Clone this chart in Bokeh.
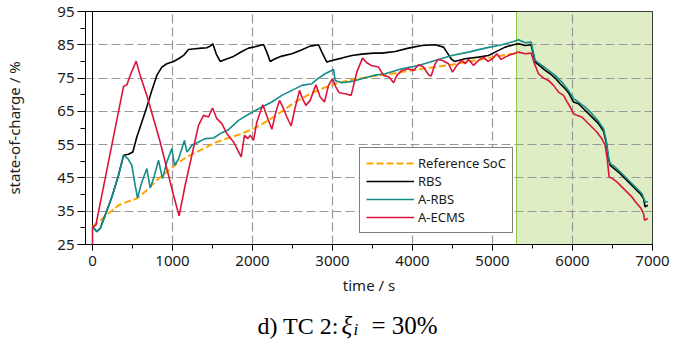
from bokeh.plotting import figure
from bokeh.layouts import column
from bokeh.models import Range1d, FixedTicker, Span, Label, Legend, LegendItem
from bokeh.embed import file_html
from bokeh.resources import INLINE

# ---------------- data ----------------
ref_t = [0, 75, 200, 325, 429, 554, 679, 804, 929, 1054, 1179, 1304, 1429, 1554, 1700,
         1867, 2033, 2200, 2367, 2533, 2700, 2867, 3033, 3200, 3367, 3513, 3658, 3867,
         4075, 4283, 4492, 4700, 4908, 5117, 5263, 5300]
ref_soc = [30.3, 31.8, 34.3, 36.8, 37.8, 38.8, 41.3, 44.3, 46.8, 49.3, 51.3, 52.8, 54.3, 55.8, 57.0,
           58.3, 60.0, 62.3, 65.0, 67.8, 70.0, 71.8, 73.3, 74.3, 75.0, 75.6, 76.0, 76.8,
           77.6, 78.3, 79.0, 80.0, 80.8, 81.8, 82.3, 82.5]

rbs_t = [0, 54, 96, 158, 242, 325, 388, 450, 504, 554, 617, 679, 742, 804, 867, 929, 1013,
         1075, 1138, 1200, 1283, 1367, 1429, 1471, 1504, 1546, 1596, 1658, 1763, 1867, 1950,
         2033, 2138, 2179, 2221, 2283, 2367, 2492, 2596, 2721, 2825, 2867, 2929, 2992, 3117,
         3242, 3367, 3513, 3617, 3783, 3950, 4117, 4283, 4388, 4429, 4483, 4525, 4658, 4825,
         4950, 5033, 5158, 5263, 5325, 5408, 5483, 5533, 5596, 5658, 5721, 5783, 5846, 5908,
         5950, 6013, 6075, 6138, 6200, 6263, 6325, 6388, 6421, 6450, 6471, 6533, 6596, 6658,
         6721, 6783, 6846, 6888, 6908, 6942]
rbs_soc = [30.3, 28.9, 29.8, 33.8, 39.3, 45.8, 51.8, 52.1, 52.8, 57.3, 61.8, 66.3, 71.3, 75.8, 78.3, 79.3, 80.0,
           80.8, 81.8, 83.6, 83.8, 84.0, 84.1, 84.6, 85.3, 82.3, 80.0, 80.6, 81.5, 83.0, 84.0,
           84.4, 85.1, 82.8, 80.0, 80.8, 81.6, 82.3, 83.3, 84.6, 85.0, 82.8, 79.8, 80.3, 81.0,
           81.8, 82.2, 82.5, 82.5, 83.0, 84.0, 84.8, 85.0, 84.3, 82.8, 80.8, 80.0, 80.8, 81.3,
           81.8, 82.8, 84.3, 85.0, 85.3, 84.8, 85.0, 79.8, 78.6, 77.3, 76.3, 75.0, 73.3, 71.8,
           70.6, 67.8, 67.3, 65.8, 64.3, 62.8, 61.3, 59.0, 55.8, 50.8, 48.8, 47.6, 46.3, 44.8,
           43.3, 41.8, 40.3, 38.8, 36.3, 36.8]

arbs_t = [0, 54, 96, 158, 242, 325, 388, 442, 492, 533, 563, 617, 679, 721, 763, 825, 875,
          929, 992, 1025, 1075, 1150, 1179, 1213, 1242, 1325, 1408, 1513, 1617, 1700, 1825,
          2000, 2117, 2242, 2367, 2492, 2617, 2742, 2825, 2908, 3013, 3033, 3117, 3242, 3367,
          3513, 3658, 3867, 4075, 4283, 4492, 4700, 4908, 5117, 5263, 5325, 5408, 5483, 5533,
          5617, 5700, 5783, 5867, 5950, 6013, 6075, 6158, 6242, 6325, 6388, 6421, 6450, 6471,
          6533, 6617, 6700, 6783, 6867, 6908, 6942]
arbs_soc = [30.5, 28.8, 29.8, 33.8, 39.3, 45.8, 51.8, 50.8, 48.8, 42.8, 39.0, 43.8, 47.8, 42.0, 44.8, 50.3, 44.8,
            49.8, 53.8, 48.8, 50.6, 56.3, 52.8, 53.8, 54.8, 55.8, 56.8, 57.0, 58.6, 59.5, 62.3,
            64.8, 66.3, 67.8, 69.8, 71.3, 72.8, 73.3, 75.0, 76.3, 77.6, 74.3, 73.6, 74.0, 74.8,
            75.8, 76.3, 77.8, 78.8, 80.3, 81.8, 82.8, 84.0, 85.0, 86.0, 86.5, 85.6, 85.8, 80.3,
            78.8, 77.3, 75.8, 73.8, 71.3, 68.8, 67.8, 66.3, 64.3, 62.0, 59.8, 56.3, 51.3, 49.3,
            48.3, 46.3, 44.3, 42.3, 40.3, 37.8, 37.8]

aecms_t = [0, 0, 42, 388, 430, 471, 546, 596, 679, 763, 846, 929, 1013, 1083, 1158, 1242,
           1325, 1388, 1450, 1500, 1554, 1617, 1679, 1763, 1858, 1900, 1942, 1971, 2013, 2054,
           2129, 2192, 2242, 2292, 2338, 2388, 2429, 2483, 2525, 2588, 2625, 2667, 2721, 2792,
           2846, 2900, 2950, 3000, 3042, 3083, 3158, 3233, 3304, 3375, 3429, 3483, 3575, 3638,
           3708, 3763, 3804, 3867, 3950, 4013, 4075, 4138, 4200, 4233, 4275, 4317, 4375, 4450,
           4500, 4554, 4617, 4658, 4700, 4763, 4825, 4888, 4942, 5000, 5054, 5108, 5158, 5221,
           5263, 5325, 5408, 5483, 5525, 5575, 5638, 5700, 5763, 5825, 5888, 5929, 5971, 6013,
           6054, 6117, 6179, 6242, 6304, 6367, 6408, 6433, 6458, 6500, 6554, 6617, 6679, 6742,
           6804, 6858, 6888, 6900, 6942]
aecms_soc = [25.0, 30.3, 30.8, 72.5, 73.0, 75.8, 80.1, 75.8, 69.8, 62.8, 55.8, 47.8, 39.8, 33.6, 42.8, 51.8,
             60.8, 63.8, 63.3, 66.0, 62.8, 61.3, 58.3, 55.8, 51.3, 57.8, 56.8, 57.8, 56.3, 61.8,
             67.0, 62.8, 59.6, 64.8, 68.3, 65.8, 63.3, 60.6, 65.3, 71.3, 68.8, 66.8, 68.3, 73.0,
             69.3, 67.8, 72.8, 74.8, 72.3, 70.6, 70.3, 69.8, 76.8, 81.0, 79.6, 78.8, 78.3, 75.8,
             75.3, 73.6, 75.8, 77.3, 77.8, 77.3, 79.0, 78.3, 76.0, 75.6, 78.8, 80.6, 80.3, 79.3,
             76.8, 78.8, 80.3, 79.3, 80.6, 78.8, 80.3, 81.3, 80.0, 80.8, 82.3, 80.6, 81.3, 82.0,
             82.3, 82.8, 82.3, 82.5, 79.3, 76.3, 75.0, 74.3, 72.8, 70.8, 69.8, 68.0, 66.3, 64.3,
             63.8, 63.3, 61.8, 60.3, 58.8, 56.8, 54.8, 50.8, 45.3, 44.8, 43.8, 42.3, 40.8, 39.3,
             37.3, 35.8, 34.3, 32.3, 32.8]

series_names = ["Reference SoC", "RBS", "A-RBS", "A-ECMS"]

x_ticks = [0, 1000, 2000, 3000, 4000, 5000, 6000, 7000]
x_minor = [500, 1500, 2500, 3500, 4500, 5500, 6500]
y_ticks = [25, 35, 45, 55, 65, 75, 85, 95]
y_minor = [30, 40, 50, 60, 70, 80, 90]

shade_start, shade_end = 5300, 7000

x_label = "time / s"
y_label = "state-of-charge / %"
caption_parts = ["d) TC 2:", "ξ", "i", "= 30%"]

# ---------------- main figure ----------------
FONT = "Noto Sans"
p = figure(width=697, height=300, title=None,
           min_border_left=85, min_border_right=45, min_border_top=11, min_border_bottom=56,
           x_range=Range1d(-87.5, 7000), y_range=Range1d(25, 95),
           output_backend="svg", toolbar_location=None,
           background_fill_color="white", border_fill_color="white")

p.outline_line_color = "black"
p.outline_line_width = 1

shade = p.quad(left=[shade_start], right=[shade_end], bottom=[y_ticks[0]], top=[y_ticks[-1]],
               fill_color="#dfedc4", line_color=None)
shade.level = "image"
p.add_layout(Span(location=shade_start, dimension="height", line_color="#8dc640",
                  line_width=1, level="underlay"))
p.add_layout(Span(location=0, dimension="height", line_color="black",
                  line_width=1, level="underlay"))

p.xgrid.ticker = FixedTicker(ticks=x_ticks[1:-1])
p.ygrid.ticker = FixedTicker(ticks=y_ticks[1:-1])
for g in (p.xgrid, p.ygrid):
    g.grid_line_color = "#999999"
    g.grid_line_dash = "9 4"
    g.grid_line_width = 1.2

p.xaxis.ticker = FixedTicker(ticks=x_ticks, minor_ticks=x_minor)
p.yaxis.ticker = FixedTicker(ticks=y_ticks, minor_ticks=y_minor)
for ax in (p.xaxis, p.yaxis):
    ax.axis_line_color = "black"
    ax.major_tick_line_color = "black"
    ax.minor_tick_line_color = "black"
    ax.major_tick_in = 0
    ax.minor_tick_in = 0
    ax.major_label_text_font = FONT
    ax.major_label_text_font_size = "15px"
    ax.major_label_text_color = "#1a1a1a"
    ax.axis_label_text_font = FONT
    ax.axis_label_text_font_size = "15px"
    ax.axis_label_text_font_style = "normal"
    ax.axis_label_text_color = "#1a1a1a"
p.xaxis.major_tick_out = 6
p.xaxis.minor_tick_out = 4
p.yaxis.major_tick_out = 8
p.yaxis.minor_tick_out = 5
p.xaxis.major_label_standoff = 5
p.yaxis.major_label_standoff = 3
p.xaxis.axis_label = x_label
p.yaxis.axis_label = y_label
p.xaxis.axis_label_standoff = 6
p.yaxis.axis_label_standoff = 30

r_ref = p.line(ref_t, ref_soc, line_color="#ffa500", line_width=2, line_dash="7 3")
r_rbs = p.line(rbs_t, rbs_soc, line_color="black", line_width=1.6)
r_arbs = p.line(arbs_t, arbs_soc, line_color="#138d89", line_width=1.6)
r_aecms = p.line(aecms_t, aecms_soc, line_color="#dc143c", line_width=1.6)

legend = Legend(items=[LegendItem(label=n, renderers=[r]) for n, r in
                       zip(series_names, [r_ref, r_rbs, r_arbs, r_aecms])],
                location=(274, 11))
legend.border_line_color = "black"
legend.border_line_width = 1
legend.background_fill_color = "white"
legend.background_fill_alpha = 1
legend.label_text_font = FONT
legend.label_text_font_size = "13px"
legend.label_text_color = "#1a1a1a"
legend.glyph_width = 48
legend.glyph_height = 18
legend.label_height = 18
legend.spacing = 0
legend.padding = 6
legend.margin = 0
legend.label_standoff = 4
p.add_layout(legend)

# ---------------- caption strip (x in page pixels, y from strip bottom) ----------------
cap = figure(width=697, height=40, title=None,
             min_border_left=85, min_border_right=45, min_border_top=0, min_border_bottom=0,
             x_range=Range1d(85, 652), y_range=Range1d(0, 40),
             x_axis_location=None, y_axis_location=None,
             output_backend="svg", toolbar_location=None,
             background_fill_color="white", border_fill_color="white")
cap.grid.visible = False
cap.outline_line_color = None

SERIF = "Liberation Serif"
base_y = 15
cap.add_layout(Label(x=257, y=base_y, text=caption_parts[0], text_font=SERIF,
                     text_font_size="24px", text_color="black", text_baseline="alphabetic"))
cap.add_layout(Label(x=341, y=base_y, text=caption_parts[1], text_font=SERIF,
                     text_font_style="italic", text_font_size="25px", text_color="black",
                     text_baseline="alphabetic"))
cap.add_layout(Label(x=353, y=base_y - 3.5, text=caption_parts[2], text_font=SERIF,
                     text_font_style="italic", text_font_size="17px", text_color="black",
                     text_baseline="alphabetic"))
cap.add_layout(Label(x=371, y=base_y, text=caption_parts[3], text_font=SERIF,
                     text_font_size="25px", text_color="black", text_baseline="alphabetic"))

layout = column(p, cap, spacing=0)
open("out.html", "w").write(file_html(layout, INLINE))
